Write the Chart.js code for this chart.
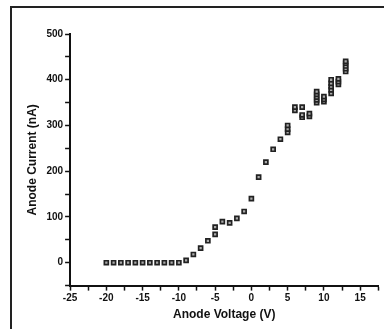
<!DOCTYPE html>
<html>
<head>
<meta charset="utf-8">
<script src="https://cdn.jsdelivr.net/npm/chart.js@4"></script>
<style>
  html, body { margin: 0; padding: 0; background: #fff; overflow: hidden; }
  #frame { position: absolute; left: 10px; top: 6px; width: 420px; height: 400px; border: 2px solid #222; }
  #wrap { position: absolute; left: 0; top: 0; width: 384px; height: 329px; }
</style>
</head>
<body>
<div id="frame"></div>
<div id="wrap"><canvas id="chart"></canvas></div>
<script>
// anode voltage (V) and anode current (nA)
const voltage = [
  -20, -19, -18, -17, -16, -15, -14, -13, -12, -11, -10,
  -9, -8, -7, -6, -5, -5, -4, -3, -2, -1, 0, 1, 2, 3, 4,
  5, 5, 5, 6, 6, 7, 7, 7, 8, 8,
  9, 9, 9, 9, 9, 10, 10, 10,
  11, 11, 11, 11, 11, 12, 12, 12,
  13, 13, 13, 13, 13
];
const current = [
  0, 0, 0, 0, 0, 0, 0, 0, 0, 0, 0,
  5, 18, 32, 48, 62, 78, 90, 87, 97, 112, 140, 187, 220, 248, 270,
  285, 292, 300, 333, 340, 340, 318, 323, 320, 326,
  350, 356, 362, 368, 374, 352, 357, 363,
  370, 378, 385, 392, 400, 390, 396, 402,
  418, 424, 430, 436, 440
];
const xTicks = [-25, -20, -15, -10, -5, 0, 5, 10, 15];
const yTicks = [0, 100, 200, 300, 400, 500];

const points = voltage.map((v, i) => ({ x: v, y: current[i] }));

const tickFont = { family: 'Liberation Sans, Arial, sans-serif', size: 10, weight: 'bold' };
const titleFont = { family: 'Liberation Sans, Arial, sans-serif', size: 12, weight: 'bold' };

new Chart(document.getElementById('chart'), {
  type: 'scatter',
  data: {
    datasets: [{
      data: points,
      pointStyle: 'rect',
      pointRadius: 2.8,
      borderWidth: 1.7,
      borderColor: '#222',
      backgroundColor: '#aaaaaa'
    }]
  },
  options: {
    responsive: true,
    maintainAspectRatio: false,
    animation: false,
    layout: { padding: { top: 34, right: 3, left: 25, bottom: 7 } },
    plugins: { legend: { display: false }, tooltip: { enabled: false } },
    scales: {
      x: {
        type: 'linear',
        min: -25,
        max: 17.5,
        border: { color: '#111', width: 2 },
        grid: { drawOnChartArea: false, tickLength: 5, tickColor: '#111', tickWidth: 1.5 },
        ticks: {
          stepSize: 2.5,
          autoSkip: false,
          maxRotation: 0,
          color: '#111',
          font: tickFont,
          padding: 2,
          callback: v => xTicks.includes(v) ? v : ''
        },
        title: { display: true, text: 'Anode Voltage (V)', color: '#111', font: titleFont, padding: { top: 1, bottom: 0 } }
      },
      y: {
        min: -50,
        max: 500,
        border: { color: '#111', width: 2 },
        grid: { drawOnChartArea: false, tickLength: 5, tickColor: '#111', tickWidth: 1.5 },
        ticks: {
          stepSize: 50,
          autoSkip: false,
          color: '#111',
          font: tickFont,
          padding: 2,
          callback: v => yTicks.includes(v) ? v : ''
        },
        title: { display: true, text: 'Anode Current (nA)', color: '#111', font: titleFont, padding: { top: 0, bottom: 5 } }
      }
    }
  }
});
</script>
</body>
</html>
